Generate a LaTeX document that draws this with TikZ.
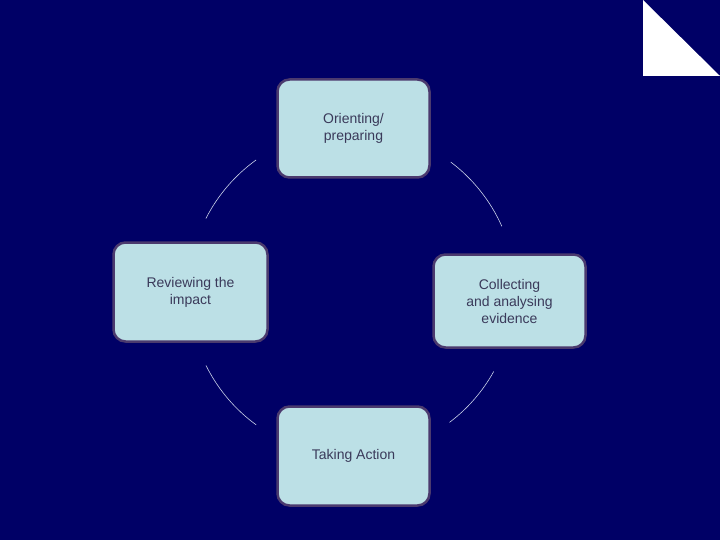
\documentclass[tikz,border=0pt]{standalone}
\usepackage{fontspec}
\setmainfont{Liberation Sans}
\begin{document}
\begin{tikzpicture}[x=1pt,y=-1pt,
  stage/.style={draw=boxline,line width=2.5pt,fill=boxfill,rounded corners=12pt,text=txt,
    align=center,font=\fontsize{14}{17}\selectfont,inner sep=0pt},
  arcline/.style={draw=arcc,line width=0.6pt}]
\definecolor{bg}{HTML}{000066}
\definecolor{boxfill}{HTML}{BCE0E6}
\definecolor{boxline}{HTML}{4B3A6E}
\definecolor{txt}{HTML}{3A3A5A}
\definecolor{arcc}{HTML}{C8D0E8}
\fill[bg] (0,0) rectangle (720,540);
\useasboundingbox (0,0) rectangle (720,540);
\fill[white] (643,0) -- (643,76) -- (720,76) -- cycle;
\node[stage,minimum width=152pt,minimum height=98pt] (top) at (353.5,128.5) {Orienting/\\preparing};
\node[stage,minimum width=154pt,minimum height=99pt] (left) at (190.5,292) {};
\node[font=\fontsize{14}{17}\selectfont,text=txt,align=center] (lt) at (190.5,292) {Reviewing the\\impact};
\node[stage,minimum width=152pt,minimum height=93pt] (right) at (509.5,301) {Collecting\\and analysing\\evidence};
\node[stage,minimum width=152pt,minimum height=99pt] (bot) at (353.5,456) {};
\node[font=\fontsize{14}{17}\selectfont,text=txt] (bt) at (353.5,456) {Taking Action};
\coordinate (c) at (352,293);
\draw[arcline] ([shift={(-125.8:164)}]c) arc (-125.8:-153:164);
\draw[arcline] ([shift={(-53:164)}]c) arc (-53:-24:164);
\draw[arcline] ([shift={(29:162)}]c) arc (29:53:162);
\draw[arcline] ([shift={(153.6:163)}]c) arc (153.6:126:163);
\end{tikzpicture}
\end{document}
